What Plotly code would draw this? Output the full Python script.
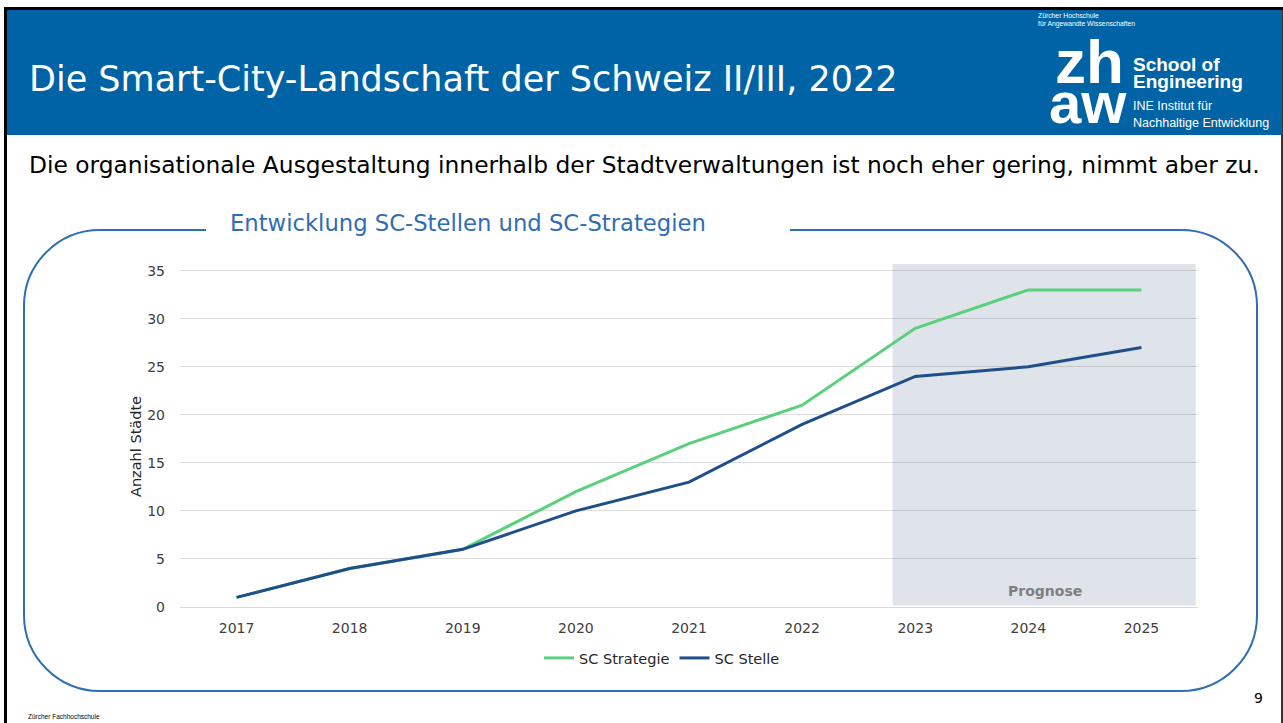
import plotly.graph_objects as go

# ---------------- data ----------------
years = ["2017", "2018", "2019", "2020", "2021", "2022", "2023", "2024", "2025"]
sc_strategie = [1, 4, 6, 12, 17, 21, 29, 33, 33]
sc_stelle = [1, 4, 6, 10, 13, 19, 24, 25, 27]
y_ticks = [0, 5, 10, 15, 20, 25, 30, 35]

W, H = 1283, 723


def X(px):
    return px / W


def Y(py):
    return 1 - py / H


FONT = "DejaVu Sans"
HEADER = "#0063A6"
FRAME = "#2F6DB5"
GREEN = "#5BD07C"
BLUE = "#1F4E89"

fig = go.Figure()
fig.add_trace(go.Scatter(x=years, y=sc_strategie, mode="lines", name="SC Strategie",
                         line=dict(color=GREEN, width=3)))
fig.add_trace(go.Scatter(x=years, y=sc_stelle, mode="lines", name="SC Stelle",
                         line=dict(color=BLUE, width=3)))

shapes = []
# black slide border
shapes.append(dict(type="rect", xref="paper", yref="paper", x0=X(4), x1=X(1283), y0=Y(10), y1=Y(7),
                   fillcolor="#000", line=dict(width=0), layer="above"))
shapes.append(dict(type="rect", xref="paper", yref="paper", x0=X(4), x1=X(7), y0=Y(723), y1=Y(7),
                   fillcolor="#000", line=dict(width=0), layer="above"))
shapes.append(dict(type="rect", xref="paper", yref="paper", x0=X(1281), x1=X(1283), y0=Y(723), y1=Y(7),
                   fillcolor="#333", line=dict(width=0), layer="below"))
# blue header
shapes.append(dict(type="rect", xref="paper", yref="paper", x0=X(7), x1=X(1282), y0=Y(135), y1=Y(10),
                   fillcolor=HEADER, line=dict(width=0), layer="below"))
# prognosis area
shapes.append(dict(type="rect", xref="x", yref="y", x0=5.8, x1=8.48, y0=0.15, y1=35.7,
                   fillcolor="#DFE3EA", line=dict(width=0), layer="below"))

# rounded frame (cubic bezier corners, built in pixel space then mapped to paper)
L, T, R, B, r = 24, 230, 1257, 691, 76
k = 0.5523 * r


def P(x, y):
    return f"{X(x):.6f},{Y(y):.6f}"


path = (
    f"M {P(206, T)} L {P(L + r, T)} "
    f"C {P(L + r - k, T)} {P(L, T + r - k)} {P(L, T + r)} "
    f"L {P(L, B - r)} "
    f"C {P(L, B - r + k)} {P(L + r - k, B)} {P(L + r, B)} "
    f"L {P(R - r, B)} "
    f"C {P(R - r + k, B)} {P(R, B - r + k)} {P(R, B - r)} "
    f"L {P(R, T + r)} "
    f"C {P(R, T + r - k)} {P(R - r + k, T)} {P(R - r, T)} "
    f"L {P(790, T)}"
)
shapes.append(dict(type="path", xref="paper", yref="paper", path=path,
                   line=dict(color=FRAME, width=2), layer="above"))

annotations = []


def txt(text, x, y, size, color="#000", family=FONT, xanchor="left", yanchor="middle", angle=0):
    annotations.append(dict(text=text, x=X(x), y=Y(y), xref="paper", yref="paper", showarrow=False,
                            xanchor=xanchor, yanchor=yanchor, textangle=angle,
                            font=dict(size=size, color=color, family=family)))


txt("Die Smart-City-Landschaft der Schweiz II/III, 2022", 27, 79, 35, "#FFFFFF")
txt("Die organisationale Ausgestaltung innerhalb der Stadtverwaltungen ist noch eher gering, nimmt aber zu.",
    27, 165, 23.35)
txt("Entwicklung SC-Stellen und SC-Strategien", 228, 223, 22.7, FRAME)
txt("Anzahl Städte", 136, 447, 14.5, "#262626", angle=-90, xanchor="center")
txt("<b>Prognose</b>", 1045, 591, 14, "#7F7F7F", xanchor="center")
txt("9", 1258, 698, 14, "#000", xanchor="center")
txt("Zürcher Fachhochschule", 26, 716, 6.5, "#000", family="Liberation Sans")

# logo
LOGO = "Liberation Sans"
txt("Zürcher Hochschule", 1036, 15, 6.8, "#FFFFFF", family=LOGO)
txt("für Angewandte Wissenschaften", 1036, 24, 6.8, "#FFFFFF", family=LOGO)
txt("<b>zh</b>", 1089, 61, 62, "#FFFFFF", family=LOGO, xanchor="center")
txt("<b>aw</b>", 1088, 103, 58, "#FFFFFF", family=LOGO, xanchor="center")
txt("<b>School of</b>", 1131, 64, 19, "#FFFFFF", family=LOGO)
txt("<b>Engineering</b>", 1131, 81, 19, "#FFFFFF", family=LOGO)
txt("INE Institut für", 1131, 106, 12.5, "#FFFFFF", family=LOGO)
txt("Nachhaltige Entwicklung", 1131, 123, 12.5, "#FFFFFF", family=LOGO)

fig.update_layout(
    width=W, height=H, autosize=False,
    margin=dict(l=0, r=0, t=0, b=0, pad=0),
    paper_bgcolor="#FFFFFF", plot_bgcolor="rgba(0,0,0,0)",
    font=dict(family=FONT, size=13, color="#404040"),
    shapes=shapes, annotations=annotations,
    showlegend=True,
    legend=dict(orientation="h", x=X(662), xanchor="center", y=Y(658), yanchor="middle",
                font=dict(size=14.5, color="#262626", family=FONT), bgcolor="rgba(0,0,0,0)",
                itemwidth=30, tracegroupgap=0),
    xaxis=dict(domain=[X(180), X(1198)], range=[-0.5, 8.5], type="category", automargin=False,
               showgrid=False, showline=True, linecolor="#D9D9D9", ticks="",
               tickfont=dict(size=14, color="#404040"), ticklabelstandoff=8, fixedrange=True),
    yaxis=dict(domain=[Y(607), Y(264)], range=[0, 35.7], tickvals=y_ticks, automargin=False,
               showgrid=True, gridcolor="rgba(0,0,0,0.13)", gridwidth=1, zeroline=False,
               showline=False, ticks="", tickfont=dict(size=14, color="#404040"),
               ticklabelstandoff=14, fixedrange=True),
)

fig.write_html("out.html",
               config={"displayModeBar": False, "responsive": False},
               default_width="1283px", default_height="723px",
               post_script="document.body.style.margin='0';document.body.style.overflow='hidden';")
